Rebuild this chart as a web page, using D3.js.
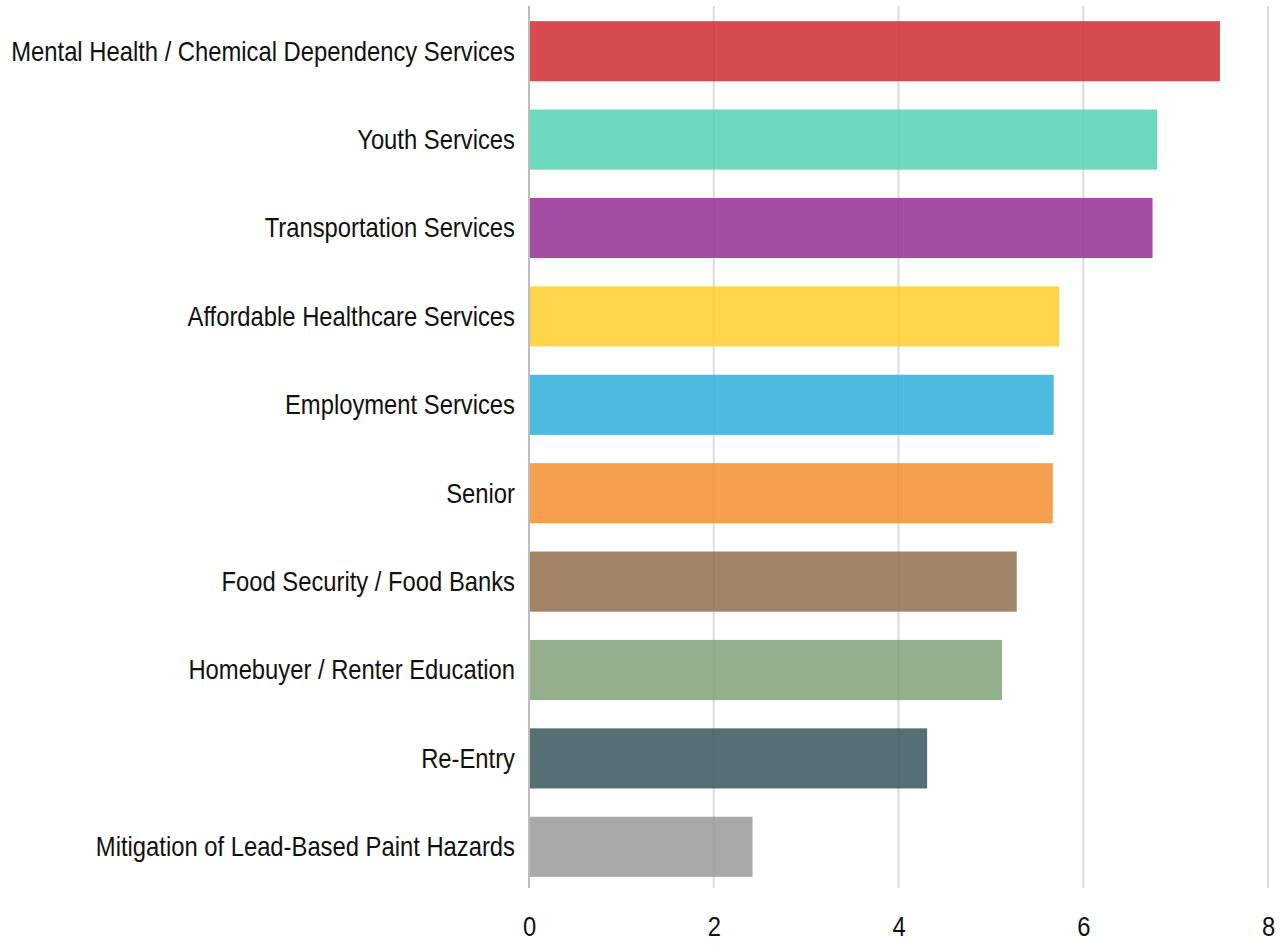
<!DOCTYPE html>
<html>
<head>
<meta charset="utf-8">
<script src="https://cdn.jsdelivr.net/npm/d3@7"></script>
<style>
  body { margin: 0; background: #fff; }
  text { font-family: "Liberation Sans", Arial, sans-serif; }
</style>
</head>
<body>
<div id="viz"></div>
<script>
var categories = [
  "Mental Health / Chemical Dependency Services",
  "Youth Services",
  "Transportation Services",
  "Affordable Healthcare Services",
  "Employment Services",
  "Senior",
  "Food Security / Food Banks",
  "Homebuyer / Renter Education",
  "Re-Entry",
  "Mitigation of Lead-Based Paint Hazards"
];
var values = [7.48, 6.80, 6.75, 5.74, 5.68, 5.67, 5.28, 5.12, 4.31, 2.42];
var colors = ["#cf2b31", "#54d3b5", "#932f92", "#ffce2c", "#2eaedc",
              "#f48e30", "#916f4e", "#80a177", "#38565d", "#999999"];
var xTicks = [0, 2, 4, 6, 8];

var width = 1286;
var height = 945;
var margin = ({top: 7, right: 18, bottom: 54, left: 529});
var fontSize = 27;

var data = categories.map(function(c, i) { return {name: c, value: values[i], color: colors[i]}; });

var svg = d3.select('#viz')
  .append('svg')
  .attr('width', width)
  .attr('height', height);

const xScale = d3.scaleLinear()
  .domain([0, 8])
  .range([margin.left, width - margin.right]);

const yScale = d3.scaleBand()
  .domain(categories)
  .range([margin.top, height - margin.bottom])
  .paddingInner(0.32)
  .paddingOuter(0.16);

// gridlines
svg.append("g")
  .selectAll("line")
  .data(xTicks)
  .join("line")
  .attr("x1", d => xScale(d))
  .attr("x2", d => xScale(d))
  .attr("y1", margin.top - 1)
  .attr("y2", height - margin.bottom - 3)
  .attr("stroke", d => d === 0 ? "#bdbdbd" : "#dcdcdc")
  .attr("stroke-width", 2);

// bars
svg.append("g")
  .selectAll("rect")
  .data(data)
  .join("rect")
  .attr("x", xScale(0) + 1)
  .attr("y", d => yScale(d.name))
  .attr("width", d => xScale(d.value) - xScale(0) - 1)
  .attr("height", yScale.bandwidth())
  .attr("fill", d => d.color)
  .attr("fill-opacity", 0.85);

// category labels (narrow look: squeeze horizontally)
var labels = svg.append("g")
  .selectAll("g")
  .data(data)
  .join("g")
  .attr("transform", d => "translate(" + (xScale(0) - 14) + "," + (yScale(d.name) + yScale.bandwidth() / 2) + ")");

labels.append("text")
  .attr("dy", "0.35em")
  .attr("text-anchor", "end")
  .attr("font-size", fontSize)
  .attr("fill", "#111")
  .text(d => d.name);

// squeeze so the longest label spans about 504px like the original
var longest = labels.select("text").nodes()[0].getComputedTextLength();
var squeeze = 504 / longest;
labels.select("text").attr("transform", "scale(" + squeeze + ",1)");

// x axis labels
var xAxis = d3.axisBottom(xScale)
  .tickValues(xTicks)
  .tickSize(0)
  .tickPadding(26)
  .tickFormat(d3.format("d"));

var gx = svg.append("g")
  .attr("transform", "translate(0," + (height - margin.bottom) + ")")
  .call(xAxis);
gx.select(".domain").remove();
gx.selectAll("text")
  .attr("font-size", fontSize)
  .attr("font-family", null)
  .attr("fill", "#111")
  .attr("transform", "scale(" + squeeze + ",1)");
</script>
</body>
</html>
